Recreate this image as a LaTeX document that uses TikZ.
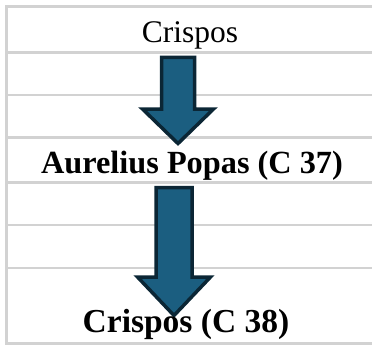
\documentclass[tikz,border=0pt]{standalone}
\usepackage{fontspec}
\setmainfont{Liberation Serif}
\begin{document}
\begin{tikzpicture}[
    x=1pt,
    y=-1pt,
    rowline/.style={
        draw=gray!35,
        line width=2.5pt
    },
    blockarrow/.style={
        draw=arrowedge,
        fill=arrowfill,
        line width=3.5pt,
        line join=miter
    },
    every node/.style={
        font=\fontsize{31.5}{36}\selectfont,
        inner sep=0pt
    }
]
\definecolor{arrowfill}{HTML}{1B5E80}
\definecolor{arrowedge}{HTML}{0B2635}
\useasboundingbox (0,0) rectangle (372,345);

% Table frame and row lines
\draw[rowline] (378,6.5) -- (6.5,6.5) -- (6.5,343.5) -- (378,343.5);
\foreach \y in {52.5,95,137.5,182.5,225,268}{
    \draw[rowline] (6.5,\y) -- (378,\y);
}

% Block arrows: centre x, top, head start, tip, shaft and head half widths
\foreach \cx/\top/\neck/\tip/\sw/\hw in {
    178/57.5/109/143.5/16.5/35.5,
    174/187.5/277/315.5/18/36.5
}{
    \draw[blockarrow]
        (\cx-\sw,\top) -- (\cx+\sw,\top) -- (\cx+\sw,\neck)
        -- (\cx+\hw,\neck) -- (\cx,\tip) -- (\cx-\hw,\neck)
        -- (\cx-\sw,\neck) -- cycle;
}

% Names
\node[anchor=base] (first) at (190,43) {Crispos};
\node[anchor=base, font=\fontsize{32.3}{36}\selectfont\bfseries]
    (popas) at (192,173) {Aurelius Popas (C 37)};
\node[anchor=base, font=\fontsize{33.5}{38}\selectfont\bfseries]
    (second) at (186,332) {Crispos (C 38)};
\end{tikzpicture}
\end{document}
